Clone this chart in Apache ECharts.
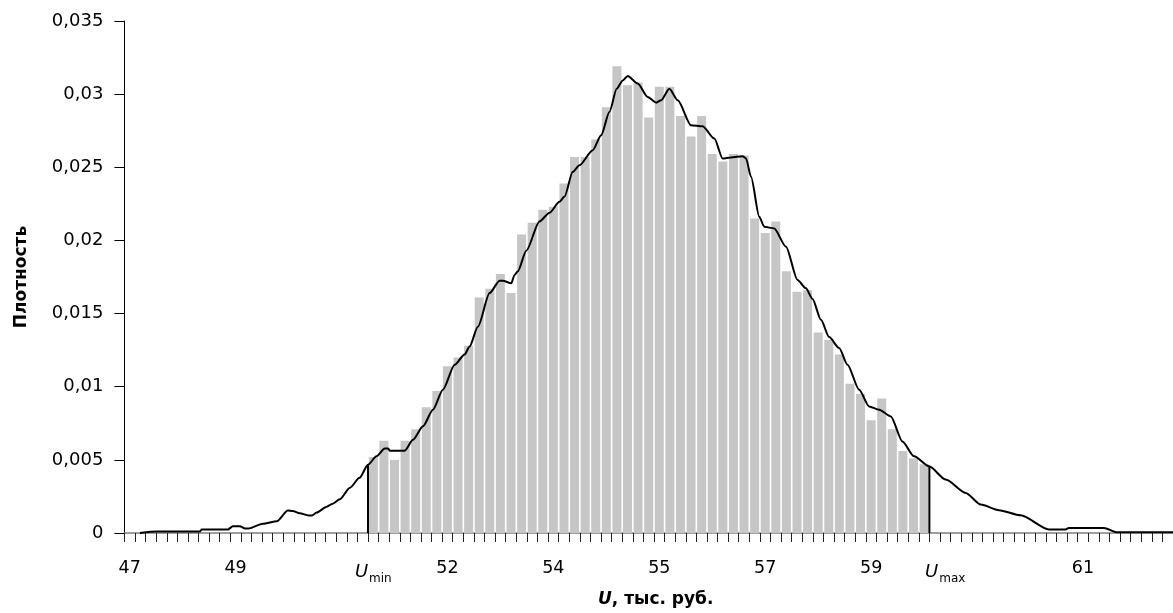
<!DOCTYPE html>
<html>
<head>
<meta charset="utf-8">
<script src="https://cdn.jsdelivr.net/npm/echarts@6/dist/echarts.min.js"></script>
<style>html,body{margin:0;padding:0;background:#fff;}#c{width:1173px;height:613px;}</style>
</head>
<body>
<div id="c"></div>
<script>
// ---- data ----
const binCount = 99;                       // number of histogram bins on the category axis
const tickLabelIndex = [0, 10, 23, 30, 40, 50, 60, 70, 77, 90];
const tickLabelText  = ['47', '49', 'Umin', '52', '54', '55', '57', '59', 'Umax', '61'];
const barStartIndex = 23;                  // first bin with a bar (Umin)
const barValues = [
  0.0052, 0.0063, 0.0050, 0.0063, 0.0071, 0.0086, 0.0097, 0.0114, 0.0120, 0.0128,
  0.0161, 0.0167, 0.0177, 0.0164, 0.0204, 0.0212, 0.0221, 0.0223, 0.0239, 0.0257,
  0.0257, 0.0269, 0.0291, 0.0319, 0.0306, 0.0308, 0.0284, 0.0305, 0.0305, 0.0285,
  0.0271, 0.0285, 0.0259, 0.0254, 0.0259, 0.0258, 0.0215, 0.0205, 0.0213, 0.0179,
  0.0165, 0.0166, 0.0137, 0.0132, 0.0122, 0.0102, 0.0095, 0.0077, 0.0092, 0.0071,
  0.0056, 0.0051, 0.0047
];
// density curve: position in bin units, density value
const curveX = [
  1.47, 3.07, 7.13, 7.3, 9.77, 10.24, 10.9, 11.4, 11.7, 13.07, 14.4, 15.43, 15.9, 16.55,
  17.4, 17.7, 18.16, 19.1, 19.67, 20.33, 21.3, 22.2, 23.0, 23.8, 24.58, 24.9, 25.05, 26.46,
  27.25, 28.19, 29.13, 30.07, 31.18, 32.12, 32.59, 33.37, 34.48, 35.42, 35.73, 36.52, 36.84,
  37.15, 37.94, 39.19, 40.14, 41.08, 41.55, 42.33, 42.96, 44.22, 45.01, 45.79, 46.48, 47.05,
  47.52, 48.46, 49.41, 50.2, 50.67, 51.45, 52.24, 53.5, 54.59, 55.7, 56.48, 57.27, 58.37,
  58.69, 59.16, 59.94, 60.41, 61.35, 62.46, 63.55, 64.34, 64.97, 65.76, 66.54, 67.48, 68.27,
  69.37, 70.31, 71.26, 72.36, 73.45, 74.56, 75.97, 77.55, 79.43, 80.85, 82.57, 84.62, 87.29,
  88.86, 89.17, 92.47, 93.73, 99
];
const curveY = [
  0, 0.0001, 0.0001, 0.00024, 0.00024, 0.00046, 0.00046, 0.0003, 0.0003, 0.00063, 0.0008, 0.00153, 0.0015, 0.00135,
  0.0012, 0.0012, 0.0014, 0.0018, 0.0020, 0.0023, 0.0031, 0.00377, 0.00467, 0.00524, 0.00577, 0.00577, 0.00563, 0.00563,
  0.00638, 0.00729, 0.00843, 0.0098, 0.0115, 0.0122, 0.01275, 0.0141, 0.0164, 0.01725, 0.01725, 0.01707, 0.01764,
  0.0179, 0.0193, 0.0213, 0.0219, 0.02264, 0.0230, 0.02469, 0.02514, 0.02617, 0.02719, 0.02878, 0.03037, 0.03094,
  0.03124, 0.03072, 0.0298, 0.02942, 0.02958, 0.03037, 0.02958, 0.02787, 0.0278, 0.02696, 0.0256, 0.02567, 0.02576,
  0.0256, 0.02435, 0.02162, 0.02093, 0.02082, 0.01957, 0.0173, 0.01673, 0.0160, 0.01457, 0.01339, 0.01264, 0.0115,
  0.00979, 0.00865, 0.00843, 0.00797, 0.00626, 0.00524, 0.00456, 0.00365, 0.00274, 0.00194, 0.00156, 0.00121, 0.00024,
  0.00024, 0.00035, 0.00035, 0.00005, 0.00005
];
const boundaryIndex = [23, 76];            // Umin, Umax bin boundaries
const boundaryDensity = [0.00467, 0.00456];

// ---- build ----
const categories = [];
for (let i = 0; i < binCount; i++) {
  const k = tickLabelIndex.indexOf(i);
  categories.push(k >= 0 ? tickLabelText[k] : '');
}
const barData = [];
for (let i = 0; i < binCount; i++) {
  const j = i - barStartIndex;
  barData.push(j >= 0 && j < barValues.length ? barValues[j] : null);
}
const curveData = curveX.map((x, i) => [x, curveY[i]]);

const FONT = 'DejaVu Sans';
const chart = echarts.init(document.getElementById('c'), null, {renderer: 'canvas'});
const series = [
  {
    type: 'bar', xAxisIndex: 0, data: barData, barWidth: 9,
    itemStyle: {color: '#c6c6c6'}, silent: true
  },
  {
    type: 'line', xAxisIndex: 1, data: curveData, showSymbol: false,
    smooth: 0.25, smoothMonotone: 'x',
    lineStyle: {color: '#000', width: 2}, silent: true, z: 5
  }
];
boundaryIndex.forEach((b, i) => {
  series.push({
    type: 'line', xAxisIndex: 1, data: [[b, 0], [b, boundaryDensity[i]]],
    showSymbol: false, lineStyle: {color: '#000', width: 2}, silent: true, z: 6
  });
});

chart.setOption({
  animation: false,
  backgroundColor: '#fff',
  grid: {left: 124.4, top: 21, width: 1050, height: 512.5},
  xAxis: [
    {
      type: 'category', data: categories, boundaryGap: true,
      axisLine: {lineStyle: {color: '#7f7f7f', width: 1.5}},
      axisTick: {show: true, interval: 0, length: 9, lineStyle: {color: '#222', width: 1}},
      axisLabel: {
        interval: 0, margin: 26, fontSize: 17.5, color: '#000', fontFamily: FONT,
        formatter: function (v) {
          if (v === 'Umin') return '{u|U}{s|min}';
          if (v === 'Umax') return '{u|U}{s|max}';
          return v;
        },
        rich: {
          u: {fontStyle: 'italic', fontSize: 18, fontFamily: FONT, color: '#000'},
          s: {fontSize: 12, fontFamily: FONT, color: '#000', padding: [14, 0, 0, 1]}
        }
      },
      splitLine: {show: false},
      name: '{ui|U}{b|, тыс. руб.}',
      nameLocation: 'middle', nameGap: 58,
      nameTextStyle: {
        padding: [0, 0, 0, 14],
        rich: {
          ui: {fontStyle: 'italic', fontWeight: 'bold', fontSize: 17, fontFamily: FONT, color: '#000'},
          b: {fontWeight: 'bold', fontSize: 17, fontFamily: FONT, color: '#000'}
        }
      }
    },
    {type: 'value', min: 0, max: binCount, show: false}
  ],
  yAxis: {
    type: 'value', min: 0, max: 0.035, interval: 0.005,
    axisLine: {show: true, lineStyle: {color: '#000', width: 1}},
    axisTick: {show: true, length: 10, lineStyle: {color: '#000'}},
    splitLine: {show: false},
    axisLabel: {
      margin: 21, fontSize: 18, color: '#000', fontFamily: FONT,
      formatter: v => String(+v.toFixed(3)).replace('.', ',')
    },
    name: 'Плотность', nameLocation: 'middle', nameGap: 94,
    nameTextStyle: {fontWeight: 'bold', fontSize: 17, fontFamily: FONT, color: '#000'}
  },
  series: series
});
</script>
</body>
</html>
